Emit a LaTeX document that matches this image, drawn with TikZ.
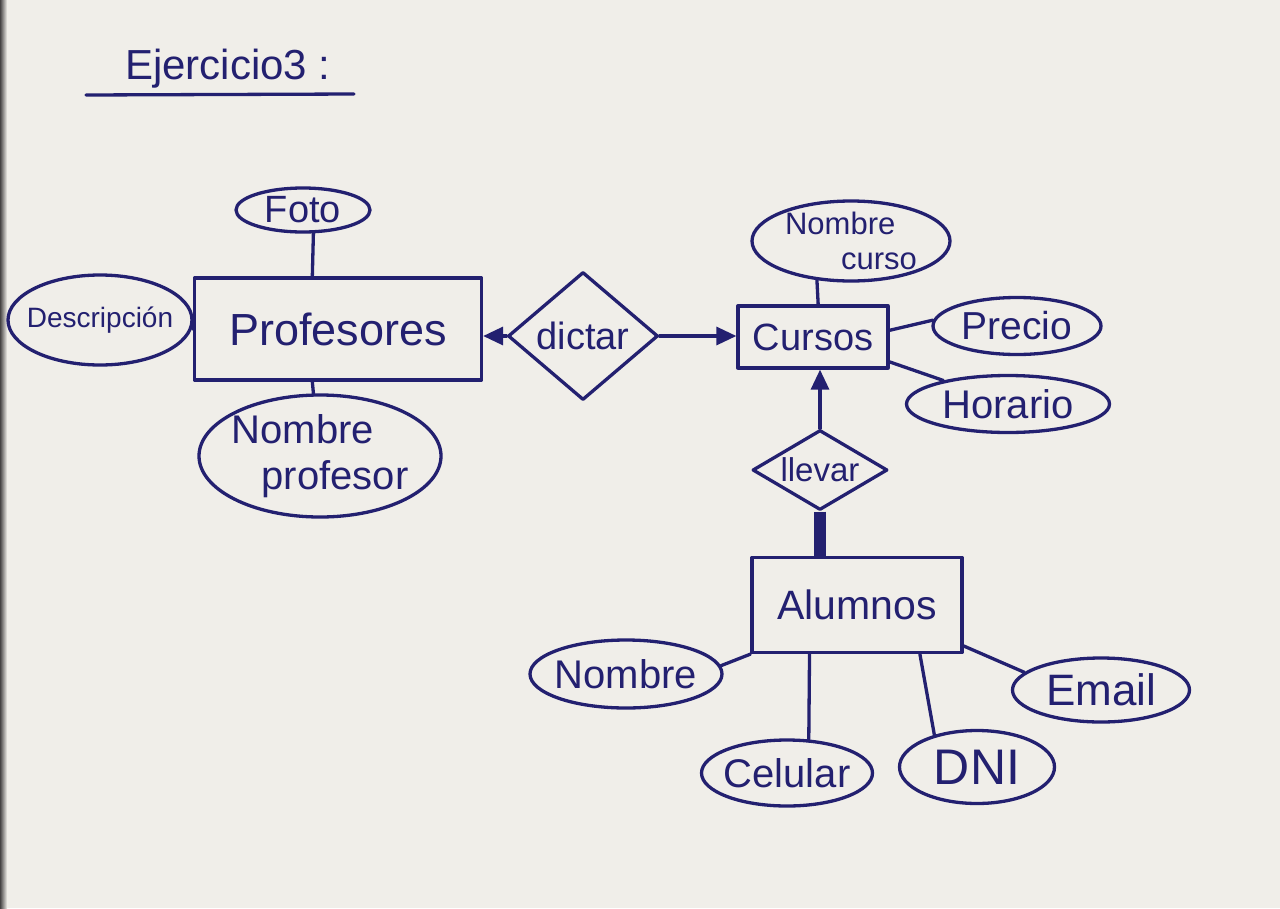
\documentclass[tikz,border=0pt]{standalone}
\usepackage{fontspec}
\setmainfont{Liberation Sans}
\usetikzlibrary{shapes.geometric,arrows.meta}
\definecolor{ink}{RGB}{35,32,112}
\definecolor{paper}{RGB}{240,238,233}
\definecolor{edge}{RGB}{70,68,68}
\newcommand{\fsz}[1]{\fontsize{#1}{\dimexpr #1pt*115/100\relax}\selectfont}
\tikzset{
  pen/.style={draw=ink, line width=3.3pt, line cap=round, line join=round},
  entity/.style={pen, rectangle, inner sep=0pt, text=ink},
  attr/.style={pen, ellipse, inner xsep=-25pt, inner ysep=-8pt, text=ink},
  rel/.style={pen, diamond, inner sep=0pt, text=ink},
  conn/.style={pen},
  arr/.style={pen, -{Triangle[length=20pt,width=18pt]}},
}
\begin{document}
\begin{tikzpicture}[x=1pt,y=-1pt]
\useasboundingbox (0,0) rectangle (1280,908);
\fill[paper] (0,0) rectangle (1280,908);
\fill[left color=edge, right color=paper] (0,0) rectangle (7,908);

% title
\node[text=ink, font=\fsz{42}, anchor=base] (title) at (228,79) {Ejercicio3 :};
\draw[pen] (86,95) -- (354,94);

% Profesores
\node[entity, minimum width=287pt, minimum height=102pt, font=\fsz{45}] (prof) at (338,329) {Profesores};
\node[attr, minimum width=134pt, minimum height=44pt, font=\fsz{38}] (foto) at (303,210) {Foto};
\node[attr, minimum width=184pt, minimum height=90pt, font=\fsz{28}] (desc) at (100,320) {Descripción};
\node[attr, minimum width=242pt, minimum height=122pt, font=\fsz{40}, align=left] (nprof) at (320,456) {Nombre\\\hspace*{30pt}profesor};

% dictar
\node[rel, minimum width=150pt, minimum height=128pt, font=\fsz{38}] (dictar) at (583,336) {dictar};

% Cursos
\node[entity, minimum width=150pt, minimum height=62pt, font=\fsz{38}] (cursos) at (813,337) {Cursos};
\node[attr, minimum width=198pt, minimum height=80pt, inner ysep=-14pt, font=\fsz{31}, align=left] (ncurso) at (851,241) {Nombre\\\hspace*{56pt}curso};
\node[attr, minimum width=168pt, minimum height=57pt, font=\fsz{39}] (precio) at (1017,326) {Precio};
\node[attr, minimum width=203pt, minimum height=57pt, font=\fsz{40}] (horario) at (1008,404) {Horario};

% llevar
\node[rel, minimum width=135pt, minimum height=80pt, shape aspect=1.7, font=\fsz{33}] (llevar) at (820,470) {llevar};

% Alumnos
\node[entity, minimum width=210pt, minimum height=95pt, font=\fsz{41}] (alum) at (857,605) {Alumnos};
\node[attr, minimum width=192pt, minimum height=68pt, font=\fsz{40}] (nombre) at (626,674) {Nombre};
\node[attr, minimum width=171pt, minimum height=66pt, font=\fsz{40}] (cel) at (787,773) {Celular};
\node[attr, minimum width=155pt, minimum height=73pt, font=\fsz{50}] (dni) at (977,767) {DNI};
\node[attr, minimum width=177pt, minimum height=64pt, font=\fsz{44}] (email) at (1101,690) {Email};

% connectors
\draw[conn] (foto.-66) -- (prof.116);
\draw[conn] (desc.east) -- (prof.west);
\draw[conn] (prof.-116) -- (nprof.96);
\draw[arr] (dictar.west) -- (dictar.west -| prof.east);
\draw[arr] (dictar.east) -- (dictar.east -| cursos.west);
\draw[conn] (ncurso.-131) -- (cursos.81);
\draw[conn] (cursos.5) -- (precio.176);
\draw[conn] (cursos.-18) -- (horario.160);
\draw[arr] (llevar.north) -- (llevar.north |- cursos.south);
\draw[draw=ink, line width=12pt] (llevar.south) -- (llevar.south |- alum.north);
\draw[conn] (alum.south west) -- (nombre.5);
\draw[conn] (alum.-134) -- (cel.57);
\draw[conn] (alum.-38) -- (dni.143);
\draw[conn] (alum.-21) -- (email.167);
\end{tikzpicture}
\end{document}
